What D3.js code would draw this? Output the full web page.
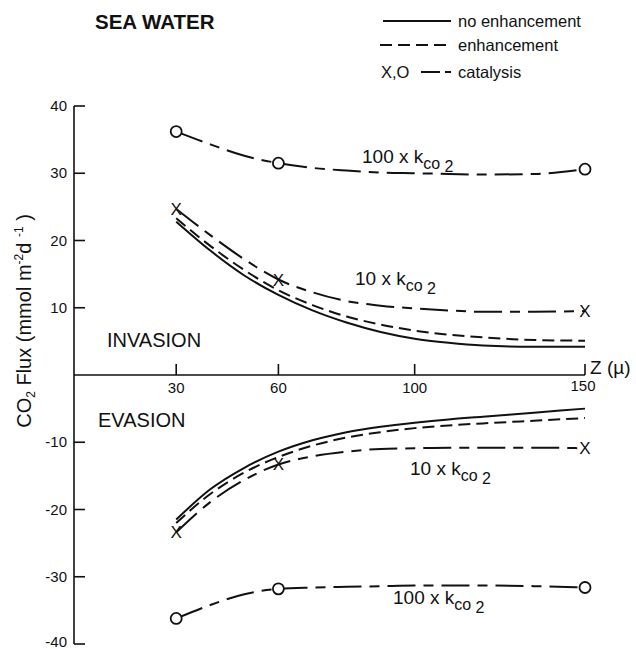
<!DOCTYPE html>
<html>
<head>
<meta charset="utf-8">
<script src="https://cdn.jsdelivr.net/npm/d3@7"></script>
<style>
  body { margin: 0; background: #fff; }
  text { font-family: "Liberation Sans", Arial, Helvetica, sans-serif; fill: #111; }
</style>
</head>
<body>
<svg id="chart" width="636" height="649"></svg>
<script>
// Diffusion-layer thickness Z (µ) at which the curves are sampled
const depths = [30, 40, 50, 60, 70, 80, 90, 100, 110, 120, 135, 150];

// CO2 flux (mmol m-2 d-1), invasion (positive)
const invNoEnhancement = [22.8, 18.5, 14.8, 11.9, 9.6, 7.8, 6.4, 5.4, 4.8, 4.4, 4.2, 4.2];
const invEnhancement   = [23.3, 19.2, 15.6, 12.6, 10.4, 8.7, 7.5, 6.6, 6.0, 5.6, 5.2, 5.1];
const invCatalysis10   = [24.7, 20.8, 17.2, 14.2, 12.3, 11.0, 10.3, 9.9, 9.6, 9.4, 9.4, 9.5];
const invCatalysis100  = [36.2, 34.3, 32.6, 31.5, 30.8, 30.4, 30.1, 30.0, 29.9, 29.8, 29.9, 30.6];

// CO2 flux, evasion (negative)
const evaNoEnhancement = [-21.5, -17.0, -13.8, -11.4, -9.7, -8.5, -7.7, -7.1, -6.6, -6.2, -5.6, -5.0];
const evaEnhancement   = [-22.0, -17.7, -14.5, -12.2, -10.5, -9.3, -8.5, -7.9, -7.5, -7.2, -6.8, -6.4];
const evaCatalysis10   = [-23.4, -18.9, -15.6, -13.3, -12.1, -11.4, -11.0, -10.9, -10.8, -10.8, -10.8, -10.9];
const evaCatalysis100  = [-36.2, -34.2, -32.6, -31.8, -31.6, -31.5, -31.4, -31.3, -31.3, -31.3, -31.4, -31.6];

// Marker depths for the catalysis curves
const markerDepths = [30, 60, 150];

// Axis ticks
const yTicks = [40, 30, 20, 10, -10, -20, -30, -40];
const xTicks = [30, 60, 100, 150];

const svg = d3.select("#chart");

const x = d3.scaleLinear().domain([0, 150]).range([74, 585]);
const y = d3.scaleLinear().domain([-40, 40]).range([644, 106]);

const INK = "#111";

// ---- axes ----
// vertical axis, with inward ticks
svg.append("line")
  .attr("x1", x(0)).attr("x2", x(0))
  .attr("y1", y(40)).attr("y2", y(-40))
  .attr("stroke", INK).attr("stroke-width", 1.6);

const yAxis = svg.append("g");
yAxis.selectAll("line").data(yTicks).join("line")
  .attr("x1", x(0)).attr("x2", x(0) + 11)
  .attr("y1", d => y(d)).attr("y2", d => y(d))
  .attr("stroke", INK).attr("stroke-width", 1.6);
yAxis.selectAll("text").data(yTicks).join("text")
  .attr("x", x(0) - 7).attr("y", d => y(d) + (d === -40 ? 3 : 5))
  .attr("text-anchor", "end")
  .attr("font-size", 15)
  .text(d => d);

// horizontal axis at zero flux, ticks pointing up
svg.append("line")
  .attr("x1", x(0)).attr("x2", x(150))
  .attr("y1", y(0)).attr("y2", y(0))
  .attr("stroke", INK).attr("stroke-width", 1.6);

const xAxis = svg.append("g");
xAxis.selectAll("line").data(xTicks).join("line")
  .attr("x1", d => x(d)).attr("x2", d => x(d))
  .attr("y1", y(0)).attr("y2", y(0) - 11)
  .attr("stroke", INK).attr("stroke-width", 1.6);
xAxis.selectAll("text").data(xTicks).join("text")
  .attr("x", d => x(d) - (d === 150 ? 2 : 0))
  .attr("y", d => y(0) + (d === 150 ? 16 : 18))
  .attr("text-anchor", "middle")
  .attr("font-size", 15)
  .text(d => d);

svg.append("text")
  .attr("x", x(150) + 5).attr("y", y(0) - 1)
  .attr("font-size", 19)
  .text("Z (\u00b5)");

// y-axis title: CO2 Flux (mmol m-2 d-1)
const yTitle = svg.append("text")
  .attr("transform", `translate(31, ${y(0) - 54}) rotate(-90)`)
  .attr("text-anchor", "middle")
  .attr("font-size", 20);
yTitle.append("tspan").text("CO");
yTitle.append("tspan").attr("font-size", 12).attr("dy", 4).text("2");
yTitle.append("tspan").attr("dy", -4).text(" Flux (mmol m");
yTitle.append("tspan").attr("font-size", 12).attr("dy", -8).text("-2");
yTitle.append("tspan").attr("dy", 8).text("d ");
yTitle.append("tspan").attr("font-size", 12).attr("dy", -8).text("-1");
yTitle.append("tspan").attr("dy", 8).text(" )");

// ---- curves ----
const line = d3.line()
  .x((d, i) => x(depths[i]))
  .y(d => y(d))
  .curve(d3.curveMonotoneX);

const SOLID = null, DASH = "12,6", CATA = "28,8,10,8";

function curve(values, dash) {
  svg.append("path")
    .attr("d", line(values))
    .attr("fill", "none")
    .attr("stroke", INK)
    .attr("stroke-width", 2)
    .attr("stroke-dasharray", dash);
}

curve(invNoEnhancement, SOLID);
curve(invEnhancement, DASH);
curve(invCatalysis10, CATA);
curve(invCatalysis100, CATA);
curve(evaNoEnhancement, SOLID);
curve(evaEnhancement, DASH);
curve(evaCatalysis10, CATA);
curve(evaCatalysis100, CATA);

// markers on the catalysis curves: X for 10 x k, O for 100 x k
function valueAt(values, z) { return values[depths.indexOf(z)]; }

function crosses(values) {
  svg.append("g").selectAll("text").data(markerDepths).join("text")
    .attr("x", z => x(z)).attr("y", z => y(valueAt(values, z)) + 6)
    .attr("text-anchor", "middle")
    .attr("font-size", 17)
    .text("X");
}
function circles(values) {
  svg.append("g").selectAll("circle").data(markerDepths).join("circle")
    .attr("cx", z => x(z)).attr("cy", z => y(valueAt(values, z)))
    .attr("r", 5.5)
    .attr("fill", "#fff")
    .attr("stroke", INK).attr("stroke-width", 1.8);
}
crosses(invCatalysis10);
crosses(evaCatalysis10);
circles(invCatalysis100);
circles(evaCatalysis100);

// ---- curve labels: "n x kco2" ----
function kLabel(px, py, factor) {
  const t = svg.append("text").attr("x", px).attr("y", py).attr("font-size", 19);
  t.append("tspan").text(`${factor} x k`);
  t.append("tspan").attr("font-size", 16).attr("dy", 6).text("co");
  t.append("tspan").attr("font-size", 16).attr("dy", 3).text(" 2");
}
kLabel(362, 163, 100);
kLabel(355, 285, 10);
kLabel(410, 475, 10);
kLabel(393, 604, 100);

// ---- region labels and title ----
svg.append("text").attr("x", 107).attr("y", 347).attr("font-size", 20).text("INVASION");
svg.append("text").attr("x", 98).attr("y", 427).attr("font-size", 20).text("EVASION");
svg.append("text").attr("x", 95).attr("y", 29)
  .attr("font-size", 20.5).attr("font-weight", "bold").text("SEA WATER");

// ---- legend ----
const legend = svg.append("g");
legend.append("line").attr("x1", 383).attr("x2", 451).attr("y1", 21).attr("y2", 21)
  .attr("stroke", INK).attr("stroke-width", 2);
legend.append("text").attr("x", 458).attr("y", 27).attr("font-size", 16.5).text("no enhancement");

legend.append("line").attr("x1", 380).attr("x2", 451).attr("y1", 45).attr("y2", 45)
  .attr("stroke", INK).attr("stroke-width", 2).attr("stroke-dasharray", "12,6");
legend.append("text").attr("x", 458).attr("y", 51).attr("font-size", 16.5).text("enhancement");

legend.append("text").attr("x", 381).attr("y", 78).attr("font-size", 16.5).text("X,O");
legend.append("line").attr("x1", 421).attr("x2", 451).attr("y1", 72).attr("y2", 72)
  .attr("stroke", INK).attr("stroke-width", 2).attr("stroke-dasharray", "19,5,6,5");
legend.append("text").attr("x", 458).attr("y", 78).attr("font-size", 16.5).text("catalysis");
</script>
</body>
</html>
